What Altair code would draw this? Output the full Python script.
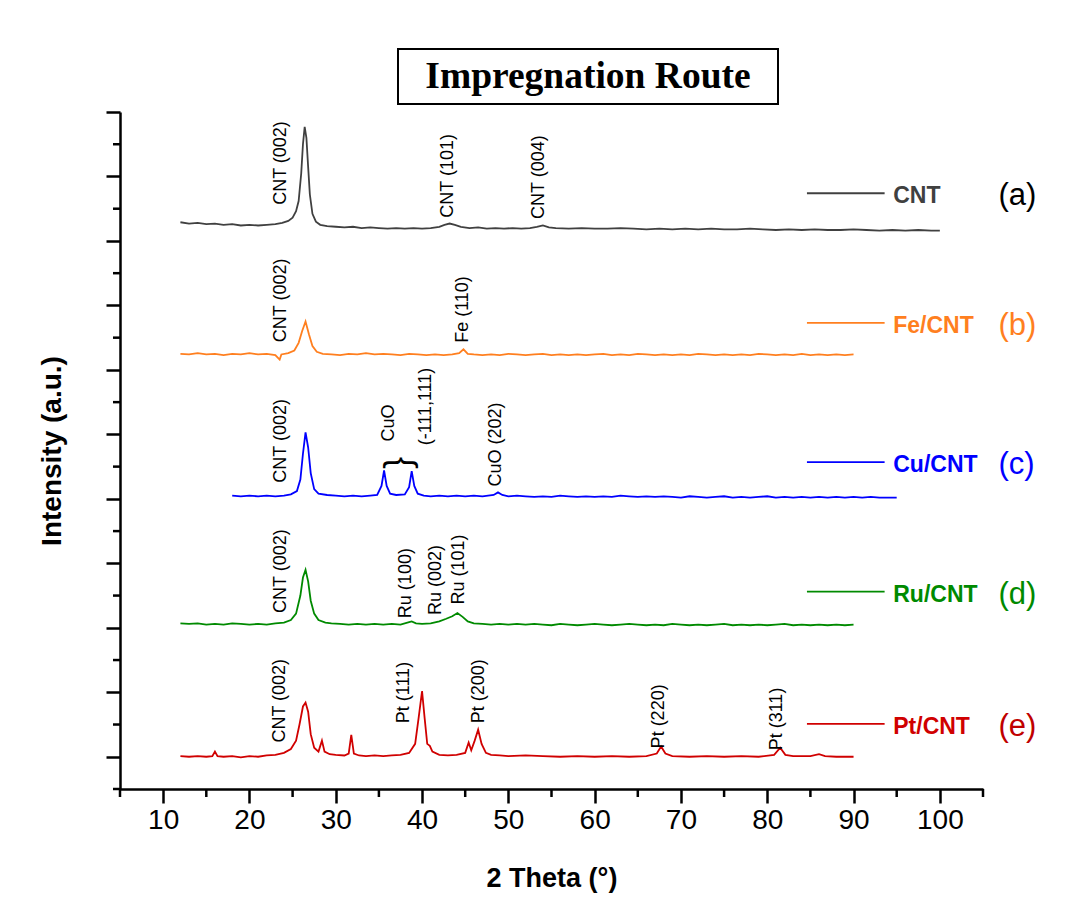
import altair as alt
import pandas as pd

# ---------------- data ----------------
samples = ["CNT", "Fe/CNT", "Cu/CNT", "Ru/CNT", "Pt/CNT"]
letters = ["(a)", "(b)", "(c)", "(d)", "(e)"]

a_x = [12, 13, 14, 15, 16, 17, 18, 19, 20, 21, 22, 23, 23.8, 24.5, 25.0, 25.4, 25.7, 26.0, 26.2, 26.4,
       26.6, 26.8, 27.0, 27.3, 27.7, 28.2, 29, 30, 31, 32, 33, 34, 35, 36, 37, 38, 39, 40, 41, 42,
       42.6, 43.2, 43.8, 44.5, 45.5, 46.5, 47.5, 48.5, 49.5, 50.5, 51.5, 52.5, 53.3, 54.0, 54.7, 55.5,
       57, 58.5, 60, 61.5, 63, 64.5, 66, 67.5, 69, 70.5, 72, 73.5, 75, 76.5, 78, 79.5, 81, 82.5, 84,
       85.5, 87, 88.5, 90, 91.5, 93, 94.5, 96, 97.5, 99, 100]
a_y = [8.29, 8.27, 8.28, 8.26, 8.27, 8.25, 8.26, 8.24, 8.25, 8.24, 8.25, 8.26, 8.28, 8.31, 8.36, 8.46,
       8.62, 9.05, 9.5, 9.77, 9.6, 9.15, 8.72, 8.42, 8.3, 8.25, 8.23, 8.22, 8.21, 8.22, 8.2, 8.21, 8.2,
       8.19, 8.2, 8.19, 8.2, 8.19, 8.2, 8.22, 8.25, 8.27, 8.25, 8.22, 8.2, 8.21, 8.19, 8.2, 8.19, 8.2,
       8.19, 8.2, 8.22, 8.24, 8.21, 8.2, 8.19, 8.2, 8.19, 8.19, 8.2, 8.19, 8.18, 8.19, 8.18, 8.19, 8.18,
       8.19, 8.18, 8.18, 8.19, 8.18, 8.17, 8.18, 8.17, 8.18, 8.17, 8.17, 8.18, 8.17, 8.16, 8.17, 8.16,
       8.17, 8.16, 8.16]

b_x = [12, 13, 14, 15, 16, 17, 18, 19, 20, 21, 22, 23, 23.5, 23.7, 24.5, 25.2, 25.7, 26.1, 26.5, 26.9,
       27.3, 27.8, 28.5, 29.5, 30.5, 31.5, 32.5, 33.5, 34.5, 35.5, 36.5, 37.5, 38.5, 39.5, 40.5, 41.5,
       42.5, 43.5, 44.3, 44.8, 45.3, 46, 47, 48, 49, 50, 51, 52, 53, 54, 55, 56, 57, 58, 59, 60, 61, 62,
       63, 64, 65, 66, 67, 68, 69, 70, 71, 72, 73, 74, 75, 76, 77, 78, 79, 80, 81, 82, 83, 84, 85, 86,
       87, 88, 89, 90]
b_y = [6.25, 6.24, 6.26, 6.24, 6.25, 6.23, 6.25, 6.24, 6.26, 6.24, 6.25, 6.23, 6.16, 6.24, 6.26, 6.3,
       6.42, 6.6, 6.75, 6.55, 6.37, 6.28, 6.25, 6.24, 6.23, 6.25, 6.24, 6.26, 6.24, 6.25, 6.24, 6.23,
       6.25, 6.24, 6.23, 6.24, 6.23, 6.24, 6.26, 6.32, 6.25, 6.24, 6.23, 6.24, 6.23, 6.25, 6.24, 6.23,
       6.24, 6.25, 6.23, 6.24, 6.23, 6.24, 6.23, 6.24, 6.25, 6.23, 6.24, 6.23, 6.25, 6.24, 6.23, 6.24,
       6.23, 6.24, 6.23, 6.25, 6.24, 6.23, 6.24, 6.23, 6.24, 6.23, 6.25, 6.24, 6.23, 6.24, 6.23, 6.25,
       6.23, 6.24, 6.23, 6.24, 6.23, 6.24]

c_x = [18, 19, 20, 21, 22, 23, 24, 24.8, 25.5, 25.9, 26.2, 26.5, 26.8, 27.1, 27.5, 28, 29, 30, 31, 32,
       33, 34, 34.8, 35.3, 35.6, 35.9, 36.3, 37, 38, 38.5, 38.8, 39.1, 39.5, 40.2, 41, 42, 43, 44, 45,
       46, 47, 48.3, 48.8, 49.3, 50, 51, 52, 53, 54, 55, 56, 57, 58, 59, 60, 61, 62, 63, 64, 65, 66, 67,
       68, 69, 70, 71, 72, 73, 74, 75, 76, 77, 78, 79, 80, 81, 82, 83, 84, 85, 86, 87, 88, 89, 90, 91,
       92, 93, 94, 95]
c_y = [4.05, 4.04, 4.05, 4.04, 4.05, 4.04, 4.05, 4.07, 4.12, 4.3, 4.7, 5.03, 4.8, 4.4, 4.15, 4.08, 4.06,
       4.05, 4.04, 4.05, 4.04, 4.05, 4.06, 4.2, 4.44, 4.2, 4.08, 4.06, 4.07, 4.18, 4.43, 4.2, 4.08, 4.05,
       4.04, 4.05, 4.04, 4.05, 4.04, 4.05, 4.04, 4.06, 4.1, 4.06, 4.04, 4.05, 4.04, 4.03, 4.04, 4.03,
       4.05, 4.04, 4.03, 4.04, 4.03, 4.04, 4.03, 4.05, 4.04, 4.03, 4.04, 4.03, 4.04, 4.03, 4.02, 4.04,
       4.03, 4.02, 4.03, 4.04, 4.02, 4.03, 4.02, 4.03, 4.04, 4.02, 4.03, 4.02, 4.03, 4.02, 4.03, 4.02,
       4.03, 4.02, 4.03, 4.02, 4.03, 4.02, 4.02, 4.02]

d_x = [12, 13, 14, 15, 16, 17, 18, 19, 20, 21, 22, 23, 24, 24.8, 25.4, 25.9, 26.2, 26.5, 26.8, 27.1,
       27.5, 28, 28.8, 29.5, 30.5, 31.5, 32.5, 33.5, 34.5, 35.5, 36.5, 37.5, 38.3, 38.8, 39.3, 40, 41,
       42, 42.8, 43.5, 44.1, 44.7, 45.3, 46, 47, 48, 49, 50, 51, 52, 53, 54, 55, 56, 57, 58, 59, 60, 61,
       62, 63, 64, 65, 66, 67, 68, 69, 70, 71, 72, 73, 74, 75, 76, 77, 78, 79, 80, 81, 82, 83, 84, 85,
       86, 87, 88, 89, 90]
d_y = [2.07, 2.06, 2.07, 2.05, 2.06, 2.05, 2.07, 2.06, 2.05, 2.06, 2.05, 2.07, 2.08, 2.12, 2.22, 2.5,
       2.78, 2.9, 2.72, 2.42, 2.22, 2.12, 2.08, 2.07, 2.06, 2.05, 2.06, 2.05, 2.06, 2.05, 2.06, 2.05,
       2.08, 2.1, 2.07, 2.06, 2.07, 2.1, 2.14, 2.18, 2.23, 2.17, 2.1, 2.07, 2.06, 2.05, 2.06, 2.05, 2.06,
       2.05, 2.06, 2.05, 2.04, 2.06, 2.05, 2.04, 2.05, 2.06, 2.05, 2.04, 2.05, 2.06, 2.05, 2.04, 2.05,
       2.04, 2.06, 2.05, 2.04, 2.05, 2.04, 2.05, 2.06, 2.04, 2.05, 2.04, 2.05, 2.04, 2.05, 2.06, 2.04,
       2.05, 2.04, 2.05, 2.04, 2.05, 2.04, 2.05]

e_x = [12, 13, 14, 15, 15.7, 16.0, 16.3, 17, 18, 19, 20, 21, 22, 23, 24, 24.8, 25.4, 25.8, 26.2, 26.5,
       26.8, 27.1, 27.5, 28.0, 28.4, 28.7, 29.3, 30, 31, 31.5, 31.8, 32.1, 32.7, 33.5, 34.5, 35.5, 36.5,
       37.5, 38.5, 39.2, 39.6, 40.0, 40.3, 40.6, 40.9, 41.2, 42, 43, 44, 45, 45.4, 45.7, 46.1, 46.5,
       46.9, 47.4, 48, 49, 50, 52, 54, 56, 58, 60, 62, 64, 66, 67.2, 67.7, 68.2, 69, 71, 73, 75, 77, 79,
       80.8, 81.5, 82.1, 83, 85, 86, 86.7, 88, 90]
e_y = [0.01, 0.0, 0.01, 0.0, 0.01, 0.08, 0.01, 0.0, 0.01, -0.01, 0.01, 0.0, 0.02, 0.03, 0.06, 0.12,
       0.25, 0.5, 0.78, 0.84, 0.7, 0.35, 0.14, 0.08, 0.25, 0.08, 0.04, 0.03, 0.02, 0.05, 0.34, 0.05,
       0.02, 0.01, 0.02, 0.01, 0.02, 0.03, 0.06, 0.2, 0.6, 1.02, 0.6, 0.2, 0.17, 0.08, 0.03, 0.02, 0.03,
       0.06, 0.22, 0.1, 0.25, 0.42, 0.2, 0.06, 0.03, 0.02, 0.01, 0.02, 0.01, 0.0, 0.01, 0.0, 0.01, 0.0,
       0.01, 0.05, 0.16, 0.05, 0.01, 0.0, 0.01, 0.0, 0.01, 0.0, 0.03, 0.14, 0.03, 0.01, 0.01, 0.04, 0.01,
       0.0, 0.0]

ann_text = ["CNT (002)", "CNT (101)", "CNT (004)",
            "CNT (002)", "Fe (110)",
            "CNT (002)", "CuO", "(-111,111)", "CuO (202)",
            "CNT (002)", "Ru (100)", "Ru (002)", "Ru (101)",
            "CNT (002)", "Pt (111)", "Pt (200)", "Pt (220)", "Pt (311)"]
ann_x = [23.6, 43.0, 53.6,
         23.6, 44.7,
         23.6, 36.2, 40.4, 48.6,
         23.6, 38.1, 41.6, 44.3,
         23.5, 37.9, 46.6, 67.45, 81.1]
ann_y = [8.56, 8.36, 8.34,
         6.43, 6.42,
         4.25, 4.89, 4.83, 4.19,
         2.23, 2.15, 2.2, 2.36,
         0.22, 0.52, 0.52, 0.13, 0.1]

# ---------------- styles / layout ----------------
line_colors = ["#404040", "#ff7f1f", "#0000ff", "#008a00", "#d00000"]
letter_colors = ["#000000", "#ff7f1f", "#0000ff", "#008a00", "#c00000"]
legend_y = [8.74, 6.73, 4.57, 2.56, 0.51]
LEG_X0, LEG_X1, LEG_TX, LEG_LX = 84.6, 93.6, 94.6, 106.8

W, H = 863, 677
SANS = "Liberation Sans, Arial, sans-serif"

rows = []
for name, xs, ys in zip(samples, [a_x, b_x, c_x, d_x, e_x], [a_y, b_y, c_y, d_y, e_y]):
    for i, (x, y) in enumerate(zip(xs, ys)):
        rows.append({"sample": name, "x": x, "y": y, "order": i})
df = pd.DataFrame(rows)

leg = pd.DataFrame({"sample": samples, "letter": letters, "y": legend_y,
                    "x0": [LEG_X0] * 5, "x1": [LEG_X1] * 5,
                    "tx": [LEG_TX] * 5, "lx": [LEG_LX] * 5})
ann = pd.DataFrame({"text": ann_text, "x": ann_x, "y": ann_y})
minor_x = pd.DataFrame({"v": list(range(5, 106, 10))})
minor_y = pd.DataFrame({"v": [k + 0.5 for k in range(-1, 10)]})
one = pd.DataFrame({"k": [0]})

xscale = alt.Scale(domain=[5, 105], nice=False, zero=False)
yscale = alt.Scale(domain=[-0.5, 10], nice=False, zero=False)
cscale = alt.Scale(domain=samples, range=line_colors)
lscale = alt.Scale(domain=letters, range=letter_colors)

xaxis = alt.Axis(values=list(range(10, 101, 10)), tickSize=14, tickWidth=2.5, tickColor="black",
                 domainWidth=2.5, domainColor="black", grid=False,
                 labelFont=SANS, labelFontSize=28, labelColor="black", labelPadding=3,
                 title="2 Theta (°)", titleFont=SANS, titleFontSize=27, titleFontWeight="bold",
                 titleColor="black", titlePadding=31)
yaxis = alt.Axis(values=list(range(0, 11)), tickSize=14, tickWidth=2.5, tickColor="black",
                 domainWidth=2.5, domainColor="black", grid=False, labels=False,
                 title="Intensity (a.u.)", titleFont=SANS, titleFontSize=28, titleFontWeight="bold",
                 titleColor="black", titlePadding=38)


def X(field):
    return alt.X(field, scale=xscale, axis=xaxis, title="2 Theta (°)")


def Y(field):
    return alt.Y(field, scale=yscale, axis=yaxis, title="Intensity (a.u.)")


lines = alt.Chart(df).mark_line(strokeWidth=1.8).encode(
    x=X("x:Q"), y=Y("y:Q"),
    color=alt.Color("sample:N", scale=cscale, legend=None),
    detail="sample:N",
    order="order:Q",
)

mx = alt.Chart(minor_x).mark_rule(strokeWidth=2.5, color="black").encode(
    x=X("v:Q"), y=alt.value(H), y2=alt.value(H + 8))
my = alt.Chart(minor_y).mark_rule(strokeWidth=2.5, color="black").encode(
    y=Y("v:Q"), x=alt.value(-7), x2=alt.value(0))

annot = alt.Chart(ann).mark_text(angle=270, align="left", baseline="middle", font=SANS,
                                 fontSize=18, color="black").encode(
    x=X("x:Q"), y=Y("y:Q"), text="text:N")

brace = alt.Chart(one).mark_text(angle=270, align="center", baseline="middle", font=SANS,
                                 fontSize=36, color="black", text="}").encode(
    x=alt.datum(37.3), y=alt.datum(4.56))

leg_lines = alt.Chart(leg).mark_rule(strokeWidth=1.8).encode(
    x=X("x0:Q"), x2="x1:Q", y=Y("y:Q"),
    color=alt.Color("sample:N", scale=cscale, legend=None))
leg_text = alt.Chart(leg).mark_text(align="left", baseline="middle", font=SANS, fontSize=23,
                                    fontWeight="bold", dy=3).encode(
    x=X("tx:Q"), y=Y("y:Q"),
    text="sample:N", color=alt.Color("sample:N", scale=cscale, legend=None))
leg_letter = alt.Chart(leg).mark_text(align="left", baseline="middle", font=SANS, fontSize=31,
                                      dy=3).encode(
    x=X("lx:Q"), y=Y("y:Q"),
    text="letter:N", color=alt.Color("letter:N", scale=lscale, legend=None))

title_box = alt.Chart(one).mark_rect(fill="white", stroke="black", strokeWidth=2).encode(
    x=alt.value(278), x2=alt.value(658), y=alt.value(-63), y2=alt.value(-8))
title_txt = alt.Chart(one).mark_text(align="center", baseline="alphabetic",
                                     font="Liberation Serif, Times New Roman, serif",
                                     fontSize=37.5, fontWeight="bold", color="black",
                                     text="Impregnation Route").encode(
    x=alt.value(468), y=alt.value(-24))

chart = alt.layer(lines, mx, my, annot, brace, leg_lines, leg_text, leg_letter, title_box, title_txt).resolve_scale(
    color="independent"
).properties(
    width=W, height=H,
    padding={"left": 120, "top": 112, "right": 87, "bottom": 127},
    autosize=alt.AutoSizeParams(type="none"),
    background="white",
).configure_view(stroke=None)

chart.save("out.html", embed_options={"renderer": "svg", "actions": False})
